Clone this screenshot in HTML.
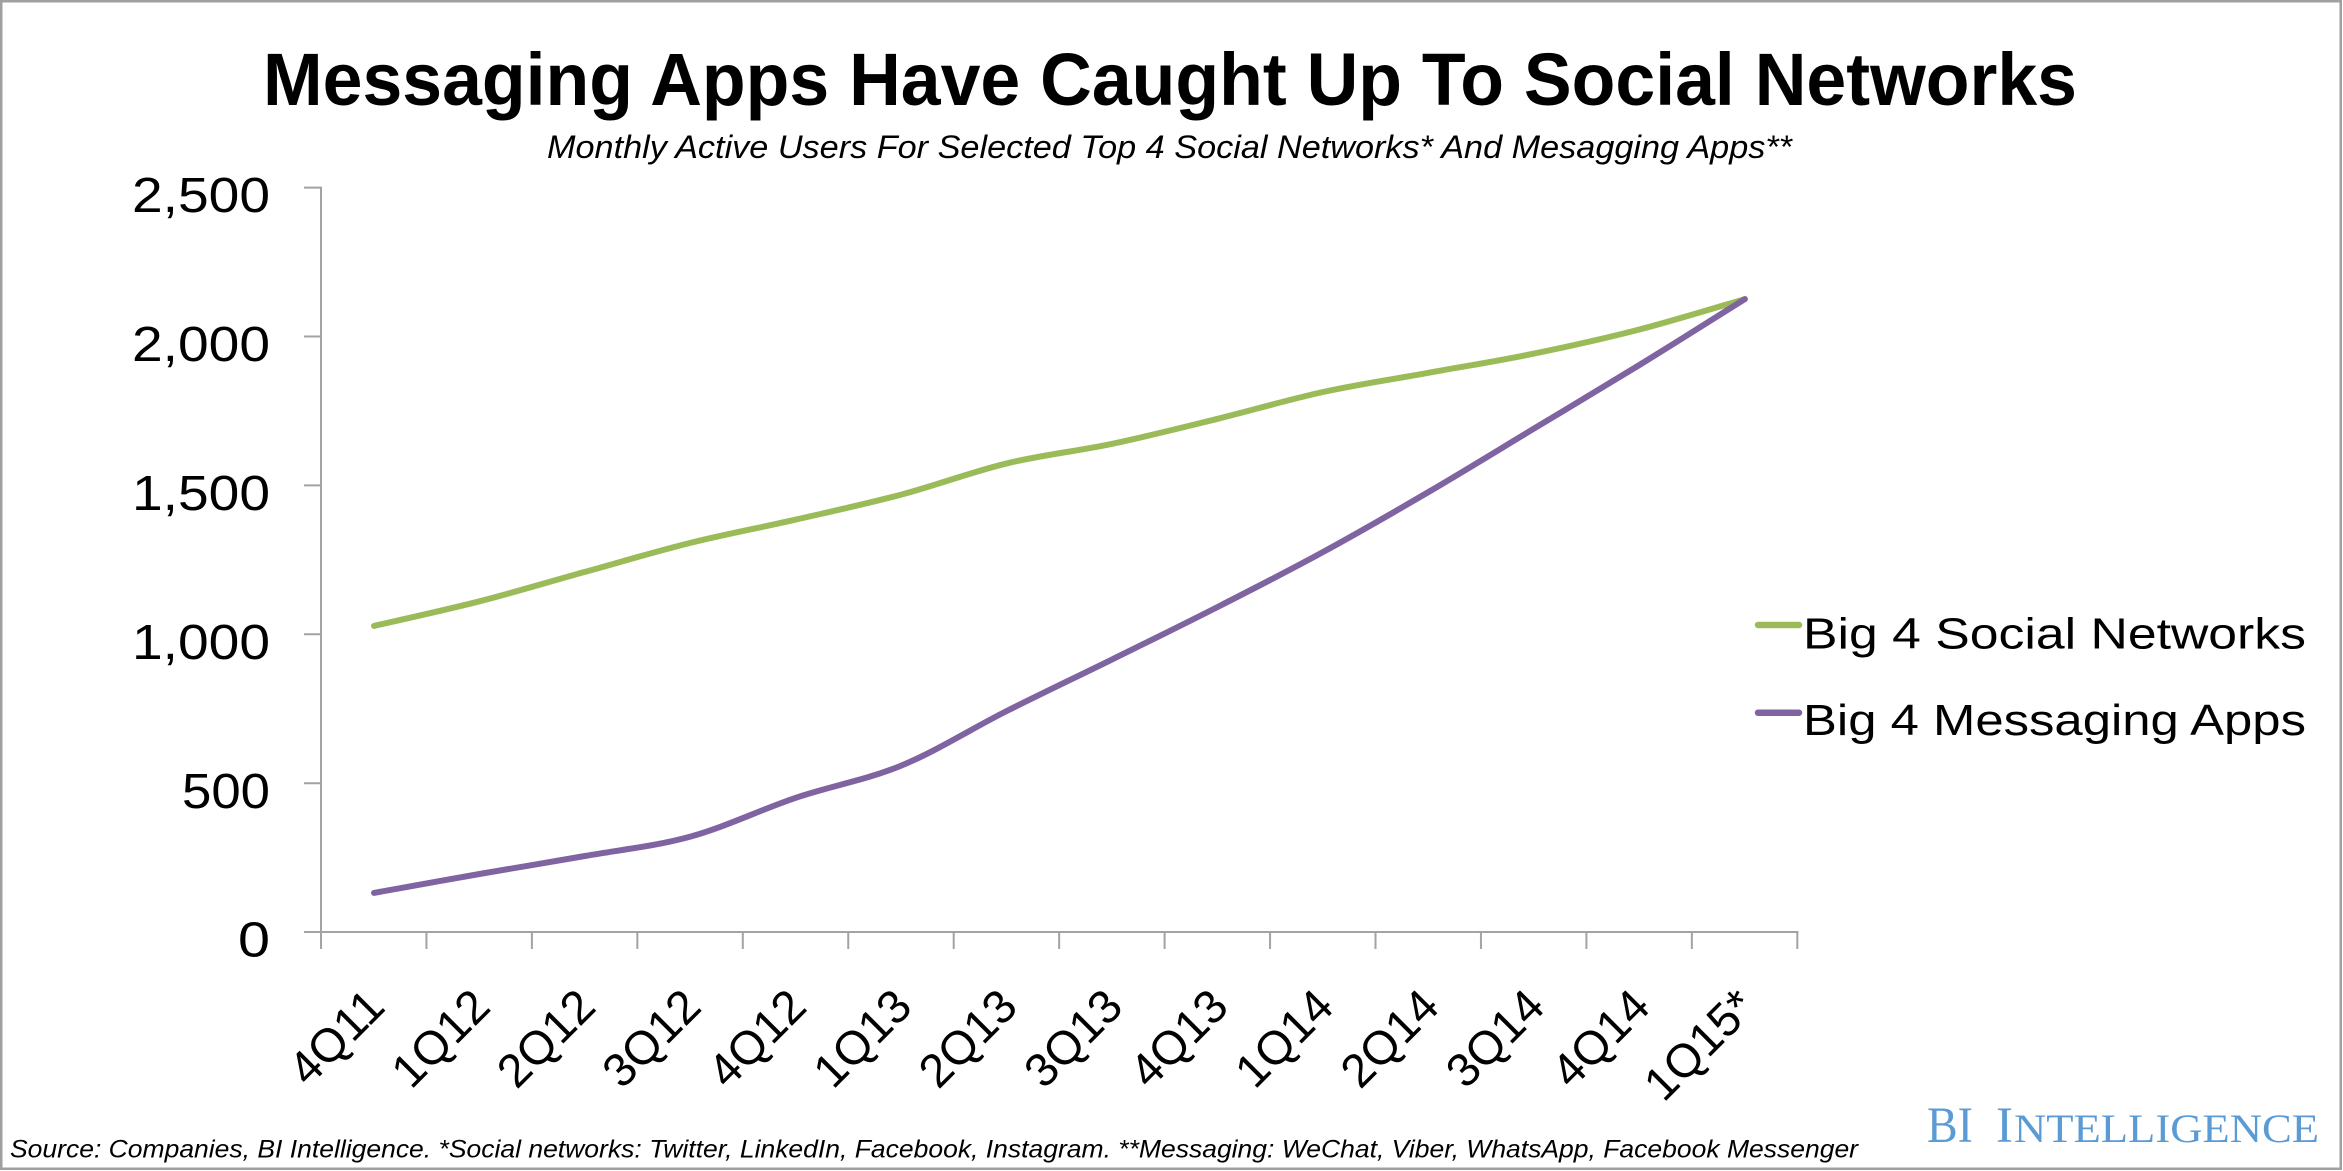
<!DOCTYPE html>
<html>
<head>
<meta charset="utf-8">
<style>
  html, body { margin: 0; padding: 0; background: #ffffff; }
  svg { display: block; }
  text { font-family: "Liberation Sans", "DejaVu Sans", sans-serif; fill: #000; }
  text.logo { font-family: "Liberation Serif", "DejaVu Serif", serif; fill: #5b9bd5; }
</style>
</head>
<body>
<svg xmlns="http://www.w3.org/2000/svg" width="2343" height="1171" viewBox="0 0 2343 1171">
  <rect x="0" y="0" width="2343" height="1171" fill="#ffffff"/>
  <rect x="1.25" y="1.25" width="2339.5" height="1167.5" fill="none" stroke="#a0a0a0" stroke-width="2.5"/>

  <!-- Title -->
  <text x="263" y="105" font-size="74.5" font-weight="bold" textLength="1814" lengthAdjust="spacingAndGlyphs">Messaging Apps Have Caught Up To Social Networks</text>
  <text x="547" y="158" font-size="32" font-style="italic" textLength="1245" lengthAdjust="spacingAndGlyphs">Monthly Active Users For Selected Top 4 Social Networks* And Mesagging Apps**</text>

  <!-- Axes -->
  <g stroke="#a3a3a3" stroke-width="2" fill="none">
    <line x1="321" y1="186.6" x2="321" y2="949"/>
    <line x1="304" y1="932" x2="1798.5" y2="932"/>
    <line x1="304" y1="187.6" x2="321" y2="187.6"/>
    <line x1="304" y1="336.5" x2="321" y2="336.5"/>
    <line x1="304" y1="485.4" x2="321" y2="485.4"/>
    <line x1="304" y1="634.3" x2="321" y2="634.3"/>
    <line x1="304" y1="783.2" x2="321" y2="783.2"/>
    <line x1="426.45" y1="932" x2="426.45" y2="949"/>
    <line x1="531.9" y1="932" x2="531.9" y2="949"/>
    <line x1="637.35" y1="932" x2="637.35" y2="949"/>
    <line x1="742.8" y1="932" x2="742.8" y2="949"/>
    <line x1="848.25" y1="932" x2="848.25" y2="949"/>
    <line x1="953.7" y1="932" x2="953.7" y2="949"/>
    <line x1="1059.15" y1="932" x2="1059.15" y2="949"/>
    <line x1="1164.6" y1="932" x2="1164.6" y2="949"/>
    <line x1="1270.05" y1="932" x2="1270.05" y2="949"/>
    <line x1="1375.5" y1="932" x2="1375.5" y2="949"/>
    <line x1="1480.95" y1="932" x2="1480.95" y2="949"/>
    <line x1="1586.4" y1="932" x2="1586.4" y2="949"/>
    <line x1="1691.85" y1="932" x2="1691.85" y2="949"/>
    <line x1="1797.3" y1="932" x2="1797.3" y2="949"/>
  </g>

  <!-- Y labels -->
  <g font-size="49" text-anchor="end">
    <text x="270" y="212" textLength="138" lengthAdjust="spacingAndGlyphs">2,500</text>
    <text x="270" y="361" textLength="138" lengthAdjust="spacingAndGlyphs">2,000</text>
    <text x="270" y="510" textLength="138" lengthAdjust="spacingAndGlyphs">1,500</text>
    <text x="270" y="659" textLength="138" lengthAdjust="spacingAndGlyphs">1,000</text>
    <text x="270" y="808" textLength="88" lengthAdjust="spacingAndGlyphs">500</text>
    <text x="270" y="956.5" textLength="32" lengthAdjust="spacingAndGlyphs">0</text>
  </g>

  <!-- X labels -->
  <g font-size="47" text-anchor="end">
    <text transform="translate(387,1009) rotate(-45)">4Q11</text>
    <text transform="translate(492.45,1009) rotate(-45)">1Q12</text>
    <text transform="translate(597.9,1009) rotate(-45)">2Q12</text>
    <text transform="translate(703.35,1009) rotate(-45)">3Q12</text>
    <text transform="translate(808.8,1009) rotate(-45)">4Q12</text>
    <text transform="translate(914.25,1009) rotate(-45)">1Q13</text>
    <text transform="translate(1019.7,1009) rotate(-45)">2Q13</text>
    <text transform="translate(1125.15,1009) rotate(-45)">3Q13</text>
    <text transform="translate(1230.6,1009) rotate(-45)">4Q13</text>
    <text transform="translate(1336.05,1009) rotate(-45)">1Q14</text>
    <text transform="translate(1441.5,1009) rotate(-45)">2Q14</text>
    <text transform="translate(1546.95,1009) rotate(-45)">3Q14</text>
    <text transform="translate(1652.4,1009) rotate(-45)">4Q14</text>
    <text transform="translate(1757.85,1009) rotate(-45)">1Q15*</text>
  </g>

  <!-- Series -->
  <path id="green" fill="none" stroke="#9bbb59" stroke-width="6" stroke-linecap="round" stroke-linejoin="round"
    d="M374,625.9 L479.45,601.3 L584.9,571.9 L690.35,542.9 L795.8,519.6 L901.25,494.6 L1006.7,463.4 L1112.15,443.8 L1217.6,418.8 L1323.05,392 L1428.5,372.8 L1533.95,353.6 L1639.4,329.5 L1744.85,299.1"/>
  <path id="purple" fill="none" stroke="#8064a2" stroke-width="6" stroke-linecap="round" stroke-linejoin="round"
    d="M374,892.9 L479.45,874 L584.9,856 L690.35,836.6 L795.8,797.8 L901.25,765.6 L1006.7,711 L1112.15,659.4 L1217.6,607 L1323.05,552 L1428.5,492 L1533.95,428.6 L1639.4,365 L1744.85,299.1"/>

  <!-- Legend -->
  <line x1="1758" y1="625" x2="1799" y2="625" stroke="#9bbb59" stroke-width="6.5" stroke-linecap="round"/>
  <text x="1803" y="648.3" font-size="44" textLength="503" lengthAdjust="spacingAndGlyphs">Big 4 Social Networks</text>
  <line x1="1758" y1="712.7" x2="1799" y2="712.7" stroke="#8064a2" stroke-width="6.5" stroke-linecap="round"/>
  <text x="1803" y="735" font-size="44" textLength="503" lengthAdjust="spacingAndGlyphs">Big 4 Messaging Apps</text>

  <!-- Footer -->
  <text x="10" y="1157.5" font-size="25" font-style="italic" textLength="1848" lengthAdjust="spacingAndGlyphs">Source: Companies, BI Intelligence. *Social networks: Twitter, LinkedIn, Facebook, Instagram. **Messaging: WeChat, Viber, WhatsApp, Facebook Messenger</text>

  <!-- Logo -->
  <text class="logo" x="1927" y="1142" font-size="51" textLength="46" lengthAdjust="spacingAndGlyphs">BI</text>
  <text class="logo" x="1996" y="1142" font-size="51">I</text>
  <text class="logo" x="2014" y="1142" font-size="40" textLength="305" lengthAdjust="spacingAndGlyphs">NTELLIGENCE</text>
</svg>
<script>
(function(){
  var xs=[];for(var i=0;i<14;i++)xs.push(374+105.45*i);
  function smooth(ys){
    var p=xs.map(function(x,i){return [x,ys[i]];});
    var d="M"+p[0][0].toFixed(2)+","+p[0][1].toFixed(2);
    for(var i=0;i<p.length-1;i++){
      var p0=p[i-1]||p[i],p1=p[i],p2=p[i+1],p3=p[i+2]||p[i+1];
      var c1x=p1[0]+(p2[0]-p0[0])/6,c1y=p1[1]+(p2[1]-p0[1])/6;
      var c2x=p2[0]-(p3[0]-p1[0])/6,c2y=p2[1]-(p3[1]-p1[1])/6;
      d+=" C"+c1x.toFixed(2)+","+c1y.toFixed(2)+" "+c2x.toFixed(2)+","+c2y.toFixed(2)+" "+p2[0].toFixed(2)+","+p2[1].toFixed(2);
    }
    return d;
  }
  try{
    document.getElementById("green").setAttribute("d",smooth([625.9,601.3,571.9,542.9,519.6,494.6,463.4,443.8,418.8,392,372.8,353.6,329.5,299.1]));
    document.getElementById("purple").setAttribute("d",smooth([892.9,874,856,836.6,797.8,765.6,711,659.4,607,552,492,428.6,365,299.1]));
  }catch(e){}
})();
</script>
</body>
</html>
